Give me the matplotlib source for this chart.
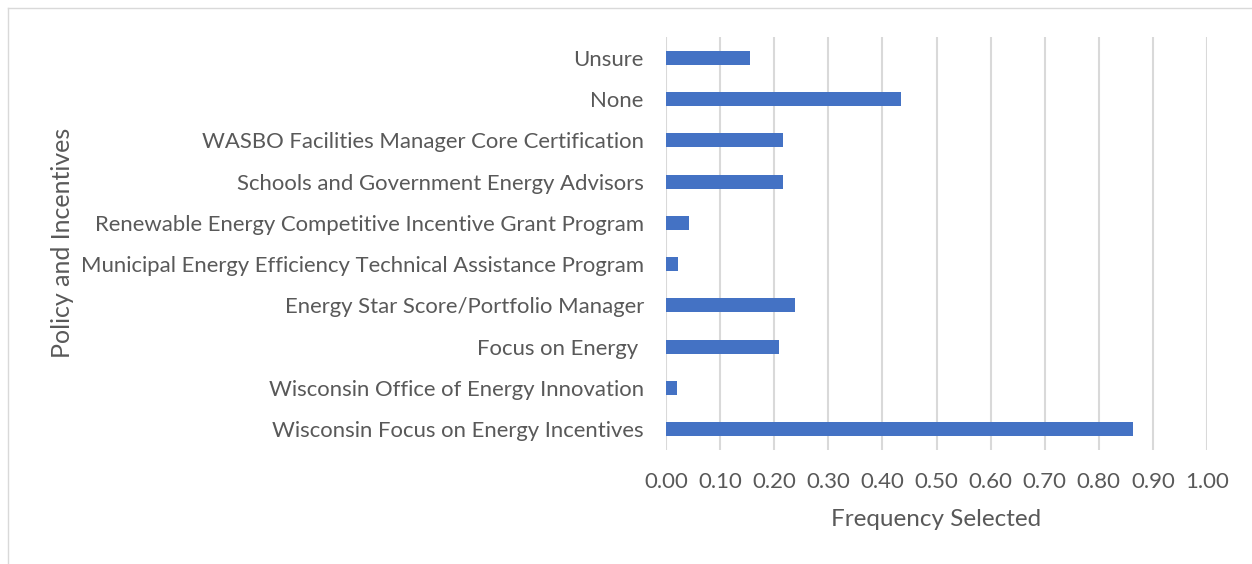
import matplotlib
matplotlib.use("Agg")
import matplotlib.pyplot as plt
from matplotlib.lines import Line2D

categories = [
    "Wisconsin Focus on Energy Incentives",
    "Wisconsin Office of Energy Innovation",
    "Focus on Energy ",
    "Energy Star Score/Portfolio Manager",
    "Municipal Energy Efficiency Technical Assistance Program",
    "Renewable Energy Competitive Incentive Grant Program",
    "Schools and Government Energy Advisors",
    "WASBO Facilities Manager Core Certification",
    "None",
    "Unsure",
]
values = [0.864, 0.020, 0.209, 0.239, 0.022, 0.043, 0.217, 0.217, 0.435, 0.155]
xticks = [0.0, 0.1, 0.2, 0.3, 0.4, 0.5, 0.6, 0.7, 0.8, 0.9, 1.0]

plt.rcParams['font.family'] = ['Lato', 'DejaVu Sans']
W, H = 1252, 564
fig = plt.figure(figsize=(W / 100, H / 100), dpi=100)
ax = fig.add_axes([666 / W, 1 - 450 / H, (1207 - 666) / W, (450 - 37) / H])

text_color = "#595959"
ypos = list(range(len(categories)))
ax.barh(ypos, values, height=0.34, color="#4472C4", zorder=3)
ax.set_xlim(0, 1.0)
ax.set_ylim(-0.5, len(categories) - 0.5)
ax.set_xticks(xticks)
ax.set_xticklabels([f"{t:.2f}" for t in xticks], fontsize=16, color=text_color)
ax.set_yticks(ypos)
ax.set_yticklabels(categories, fontsize=15.9, color=text_color)
ax.tick_params(axis='both', length=0)
ax.tick_params(axis='x', pad=16)
ax.tick_params(axis='y', pad=16)
ax.grid(axis='x', color="#D9D9D9", linewidth=1.5, zorder=0)
ax.grid(axis='y', visible=False)
for s in ax.spines.values():
    s.set_visible(False)

fig.text(936 / W, 1 - 519 / H, "Frequency Selected", fontsize=17.5, color=text_color,
         ha='center', va='center')
fig.text(62 / W, 1 - 243 / H, "Policy and Incentives", rotation=90, fontsize=18,
         color=text_color, ha='center', va='center')

# outer chart border (top and left visible)
fig.add_artist(Line2D([8 / W, 1.0], [1 - 8 / H, 1 - 8 / H], transform=fig.transFigure,
                      color="#D9D9D9", linewidth=1.0))
fig.add_artist(Line2D([8 / W, 8 / W], [0, 1 - 8 / H], transform=fig.transFigure,
                      color="#D9D9D9", linewidth=1.0))

fig.savefig("out.png", dpi=100)
